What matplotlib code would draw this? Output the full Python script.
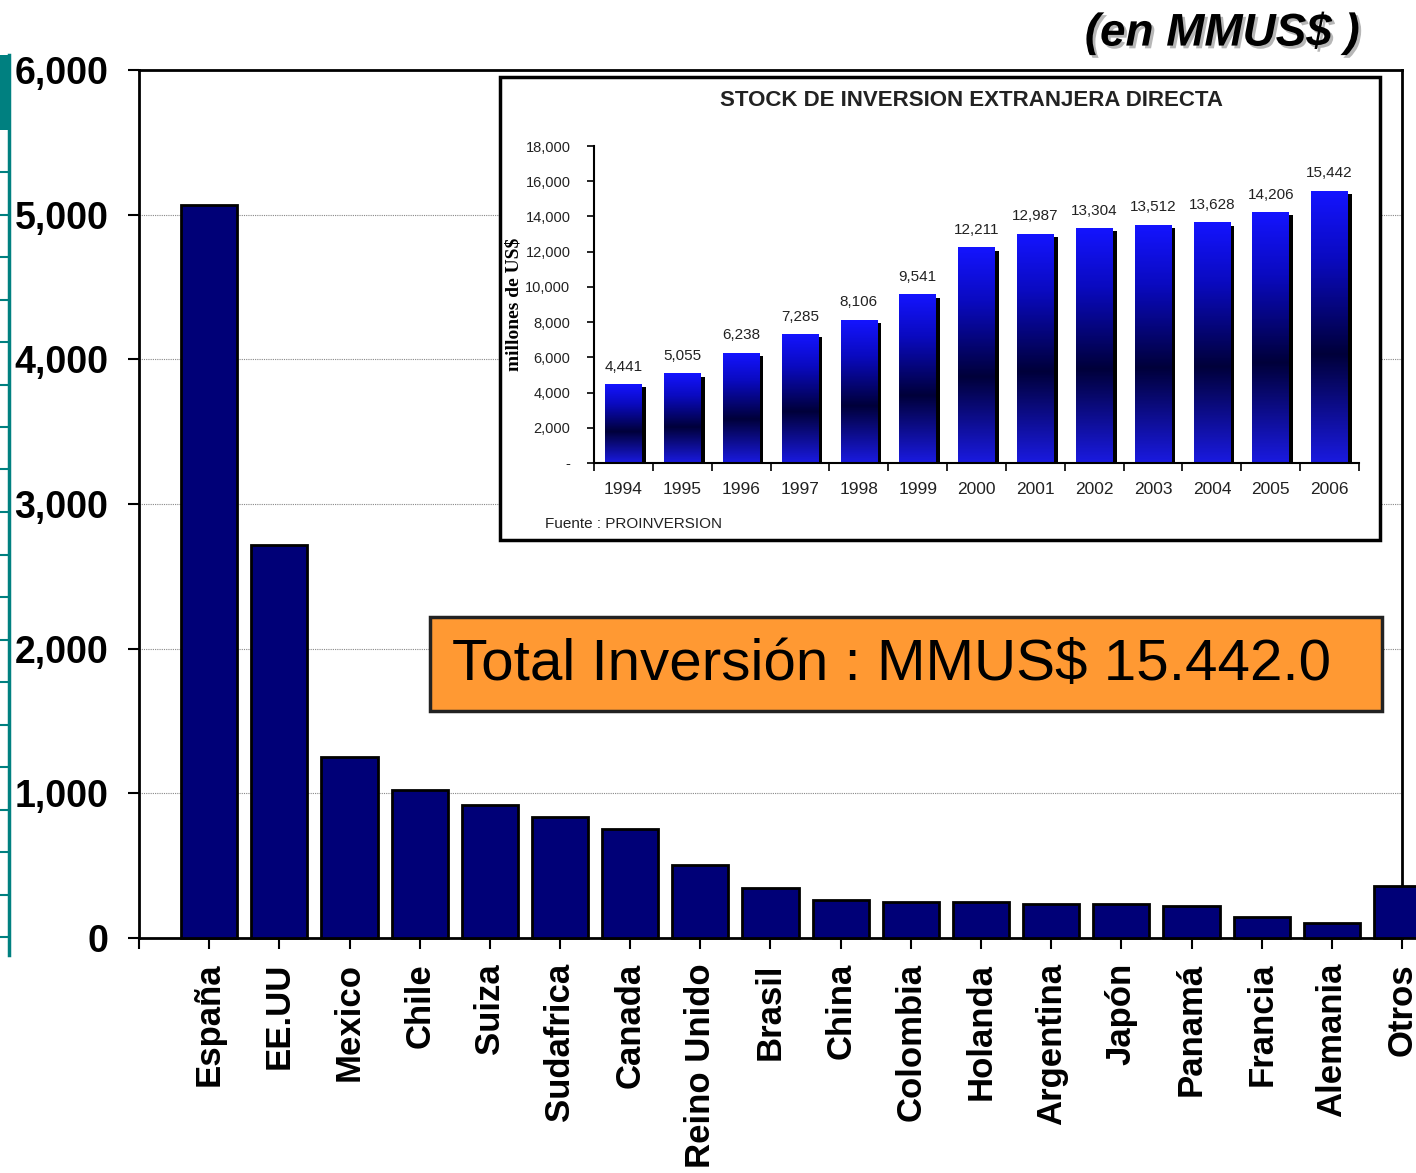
import numpy as np
import matplotlib
matplotlib.use("Agg")
import matplotlib.pyplot as plt
from matplotlib.patches import Rectangle
from matplotlib.colors import LinearSegmentedColormap
import matplotlib.patheffects as pe

plt.rcParams['font.family'] = ['Liberation Sans', 'DejaVu Sans']

# main chart data (MMUS$)
countries = ["España", "EE.UU", "Mexico", "Chile", "Suiza", "Sudafrica", "Canada",
             "Reino Unido", "Brasil", "China", "Colombia", "Holanda", "Argentina",
             "Japón", "Panamá", "Francia", "Alemania", "Otros"]
investment = [5067, 2717, 1251, 1023, 919, 836, 753, 505, 346, 263, 249, 249,
              235, 235, 221, 145, 104, 359]
main_ticks = [0, 1000, 2000, 3000, 4000, 5000, 6000]

# inset data: stock of FDI
years = ["1994", "1995", "1996", "1997", "1998", "1999", "2000", "2001", "2002",
         "2003", "2004", "2005", "2006"]
stock = [4441, 5055, 6238, 7285, 8106, 9541, 12211, 12987, 13304, 13512, 13628,
         14206, 15442]
inset_ticks = [0, 2000, 4000, 6000, 8000, 10000, 12000, 14000, 16000, 18000]

W, H = 1416, 1173
fig = plt.figure(figsize=(W / 100, H / 100), dpi=100)


def fx(px):
    return px / W


def fy(py):
    return 1 - py / H


# ---- main chart ----
ax = fig.add_axes([fx(139), fy(938), fx(1402) - fx(139), fy(70) - fy(938)])
xs = np.arange(len(countries))
ax.bar(xs, investment, width=0.8, color="#000077", edgecolor="black",
       linewidth=2, zorder=3, clip_on=False)
ax.set_xlim(-1, len(countries) - 1)
ax.set_ylim(0, 6000)
ax.set_yticks(main_ticks)
ax.set_yticklabels([f"{t:,}" for t in main_ticks], fontsize=27, fontweight="bold")
ax.set_xticks(np.arange(-1, len(countries)))
ax.set_xticklabels([""] + countries, rotation=90, fontsize=25, fontweight="bold")
ax.tick_params(axis="y", length=8, width=1.5, pad=14)
ax.tick_params(axis="x", length=8, width=1.5, pad=10)
ax.grid(axis="y", linestyle=(0, (1, 1)), color="#888888", linewidth=0.8, zorder=0)
for s in ax.spines.values():
    s.set_linewidth(2)

# unit note
fig.text(fx(1360), fy(33), "(en MMUS$ )", ha="right", va="center", fontsize=33,
         fontweight="bold", style="italic",
         path_effects=[pe.withSimplePatchShadow(offset=(2, -2), shadow_rgbFace="#999999", alpha=0.7)])

# total box
fig.patches.append(Rectangle((fx(430), fy(711)), fx(1382) - fx(430), fy(617) - fy(711),
                             transform=fig.transFigure, facecolor="#FF9933",
                             edgecolor="#222222", linewidth=2.5, zorder=1))
fig.text(fx(452), fy(665), "Total Inversión : MMUS$ 15.442.0", ha="left", va="center",
         fontsize=42, zorder=4)

# slide decoration on the left
fig.patches.append(Rectangle((0, fy(130)), fx(10), fy(55) - fy(130), transform=fig.transFigure,
                             facecolor="#008080", edgecolor="none", zorder=1))
fig.lines.append(plt.Line2D([fx(9), fx(9)], [fy(955), fy(55)], transform=fig.transFigure,
                            color="#008080", linewidth=2.5))
for py in np.arange(172, 955, 42.5):
    fig.lines.append(plt.Line2D([0, fx(9)], [fy(py), fy(py)], transform=fig.transFigure,
                                color="#008080", linewidth=1.5))

# ---- inset frame ----
fig.patches.append(Rectangle((fx(500), fy(540)), fx(1380) - fx(500), fy(77) - fy(540),
                             transform=fig.transFigure, facecolor="white",
                             edgecolor="black", linewidth=2.5, zorder=1))

ax2 = fig.add_axes([fx(594), fy(463), fx(1359) - fx(594), fy(146) - fy(463)], zorder=2)
ax2.patch.set_alpha(0)
cmap = LinearSegmentedColormap.from_list(
    "grad", [(0.0, "#1a1ae0"), (0.4, "#00003a"), (0.75, "#0a0ac0"), (1.0, "#1414ff")])
grad = np.linspace(0, 1, 256).reshape(-1, 1)
bw = 0.62
for i, v in enumerate(stock):
    ax2.bar(i + 0.07, v - 150, width=bw, color="black", zorder=1)
    ax2.imshow(grad, extent=[i - bw / 2, i + bw / 2, 0, v], origin="lower", cmap=cmap,
               aspect="auto", zorder=2)
    ax2.annotate(f"{v:,}", (i, v), xytext=(0, 13), textcoords="offset points",
                 ha="center", va="center", fontsize=11, color="#222222")
ax2.set_xlim(-0.5, len(years) - 0.5)
ax2.set_ylim(0, 18000)
ax2.set_yticks(inset_ticks)
ax2.set_yticklabels(["-"] + [f"{t:,}" for t in inset_ticks[1:]], fontsize=10.5, color="#222222")
ax2.set_xticks(np.arange(len(years)))
ax2.set_xticklabels(years, fontsize=12.5, color="#222222")
ax2.set_xticks(np.arange(-0.5, len(years)), minor=True)
ax2.tick_params(axis="x", which="major", length=0, pad=14)
ax2.tick_params(axis="x", which="minor", length=6, width=1.2)
ax2.tick_params(axis="y", length=5, width=1.2, pad=12)
ax2.spines["top"].set_visible(False)
ax2.spines["right"].set_visible(False)
ax2.spines["left"].set_linewidth(1.5)
ax2.spines["bottom"].set_linewidth(1.5)
ax2.set_ylabel("millones de US$", fontsize=14, fontweight="bold",
               family=["Liberation Serif", "DejaVu Serif"], labelpad=2)

fig.text(fx(972), fy(100), "STOCK DE INVERSION EXTRANJERA DIRECTA", ha="center",
         va="center", fontsize=16, fontweight="bold", color="#222222", zorder=4)
fig.text(fx(545), fy(524), "Fuente : PROINVERSION", ha="left", va="center",
         fontsize=11, color="#222222", zorder=4)

fig.savefig("out.png", dpi=100)
